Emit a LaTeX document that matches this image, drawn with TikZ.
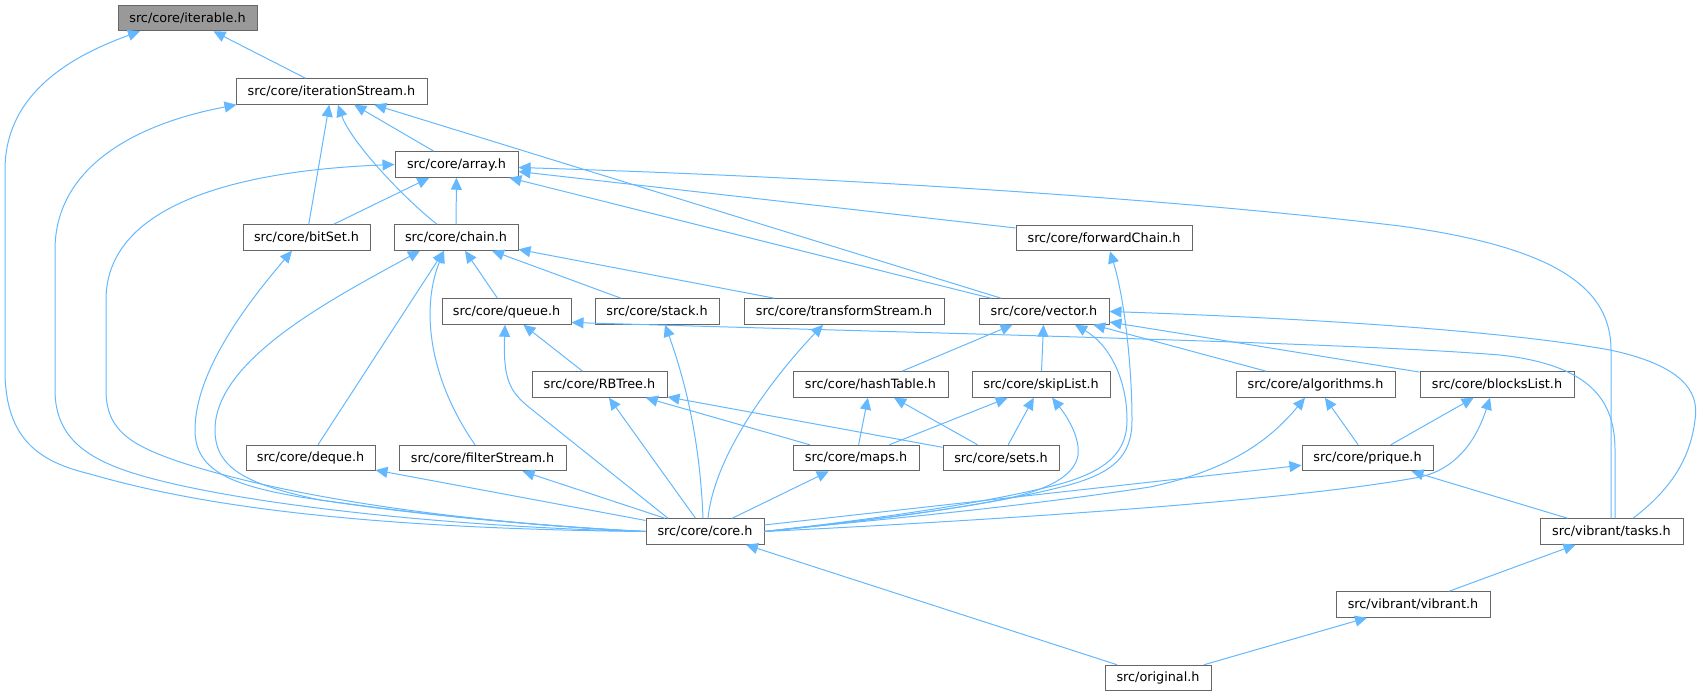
\documentclass[tikz,border=0pt]{standalone}
\usepackage{fontspec}
\setmainfont{DejaVu Sans}
\usetikzlibrary{arrows.meta}
\definecolor{edgec}{HTML}{63B8FF}
\definecolor{bordc}{HTML}{666666}
\definecolor{rootc}{HTML}{999999}
\tikzset{
  fbox/.style={draw=bordc, line width=1pt, fill=white, inner sep=0pt, minimum height=25.5pt,
    font=\fontsize{12.8}{15}\selectfont, text=black},
  rootbox/.style={fbox, fill=rootc},
  dep/.style={draw=edgec, line width=1pt, arrows={Triangle[length=12pt,width=11pt]-}},
}
\begin{document}
\begin{tikzpicture}[x=1pt,y=-1pt]
\useasboundingbox (0,0) rectangle (1705,696);
% nodes
\node[rootbox, minimum width=139pt] (iterable) at (187.5,18) {src/core/iterable.h};
\node[fbox, minimum width=191pt] (iterStream) at (331.5,91.5) {src/core/iterationStream.h};
\node[fbox, minimum width=123pt] (array) at (456.5,164.5) {src/core/array.h};
\node[fbox, minimum width=127pt] (bitSet) at (306.5,237.5) {src/core/bitSet.h};
\node[fbox, minimum width=124pt] (chain) at (456,237.5) {src/core/chain.h};
\node[fbox, minimum width=176pt] (fwdChain) at (1104,238) {src/core/forwardChain.h};
\node[fbox, minimum width=129pt] (queue) at (506.5,311.5) {src/core/queue.h};
\node[fbox, minimum width=124pt] (stack) at (657,311.5) {src/core/stack.h};
\node[fbox, minimum width=200pt] (tStream) at (844,311.5) {src/core/transformStream.h};
\node[fbox, minimum width=130pt] (vector) at (1044,311.5) {src/core/vector.h};
\node[fbox, minimum width=135pt] (rbtree) at (599.5,384.5) {src/core/RBTree.h};
\node[fbox, minimum width=155pt] (hashTable) at (870.5,384.5) {src/core/hashTable.h};
\node[fbox, minimum width=138pt] (skipList) at (1041,384.5) {src/core/skipList.h};
\node[fbox, minimum width=159pt] (algos) at (1315.5,384.5) {src/core/algorithms.h};
\node[fbox, minimum width=154pt] (blocks) at (1497,384.5) {src/core/blocksList.h};
\node[fbox, minimum width=129pt] (deque) at (310.5,458) {src/core/deque.h};
\node[fbox, minimum width=167pt] (fStream) at (482.5,458) {src/core/filterStream.h};
\node[fbox, minimum width=126pt] (maps) at (856,458) {src/core/maps.h};
\node[fbox, minimum width=116pt] (sets) at (1001,458) {src/core/sets.h};
\node[fbox, minimum width=131pt] (prique) at (1367.5,458) {src/core/prique.h};
\node[fbox, minimum width=118pt] (core) at (705,531.5) {src/core/core.h};
\node[fbox, minimum width=143pt] (tasks) at (1611.5,531.5) {src/vibrant/tasks.h};
\node[fbox, minimum width=154pt] (vibrant) at (1413,604.5) {src/vibrant/vibrant.h};
\node[fbox, minimum width=106pt] (original) at (1158,678) {src/original.h};

% straight edges
\draw[dep] (iterable) -- (iterStream);
\draw[dep] (iterStream) -- (array);
\draw[dep] (iterStream) -- (bitSet);
\draw[dep] (iterStream) -- (vector);
\draw[dep] (array) -- (bitSet);
\draw[dep] (array) -- (chain);
\draw[dep] (array) -- (vector);
\draw[dep] (array) -- (fwdChain);
\draw[dep] (chain) -- (queue);
\draw[dep] (chain) -- (stack);
\draw[dep] (chain) -- (tStream);
\draw[dep] (444,0 |- chain.south) -- (318,0 |- deque.north);
\draw[dep] (queue) -- (rbtree);
\draw[dep] (vector) -- (hashTable);
\draw[dep] (vector) -- (skipList);
\draw[dep] (vector) -- (algos);
\draw[dep] (vector) -- (blocks);
\draw[dep] (rbtree) -- (maps);
\draw[dep] (rbtree) -- (sets);
\draw[dep] (rbtree) -- (core);
\draw[dep] (hashTable) -- (maps);
\draw[dep] (hashTable) -- (sets);
\draw[dep] (skipList) -- (maps);
\draw[dep] (skipList) -- (sets);
\draw[dep] (algos) -- (prique);
\draw[dep] (blocks) -- (prique);
\draw[dep] (prique) -- (core);
\draw[dep] (prique) -- (tasks);
\draw[dep] (deque) -- (core);
\draw[dep] (fStream) -- (core);
\draw[dep] (maps) -- (core);
\draw[dep] (core) -- (original);
\draw[dep] (tasks) -- (vibrant);
\draw[dep] (vibrant) -- (original);

% curved edges
\draw[dep] (140,0 |- iterable.south) .. controls (60,60) and (5,100) .. (5,170) -- (5,370)
  .. controls (5,440) and (40,462) .. (90,474) .. controls (160,494) and (300,528) .. (core.west);
\draw[dep] ([xshift=1pt]iterStream.south west) .. controls (130,125) and (55,170) .. (55,250) -- (55,390)
  .. controls (55,440) and (90,462) .. (150,478) .. controls (250,505) and (450,527) .. (core.west);
\draw[dep] (array.west) .. controls (250,170) and (106,200) .. (106,300) -- (106,390)
  .. controls (106,430) and (130,445) .. (180,462) .. controls (280,495) and (450,522) .. (core.west);
\draw[dep] (292,0 |- bitSet.south) .. controls (250,300) and (195,370) .. (195,430)
  .. controls (195,470) and (230,485) .. (300,497) .. controls (420,515) and (550,527) .. (core.west);
\draw[dep] (420,0 |- chain.south) .. controls (330,300) and (215,360) .. (215,430)
  .. controls (215,470) and (250,485) .. (320,500) .. controls (440,518) and (560,527) .. (core.west);
\draw[dep] (444,0 |- chain.south) .. controls (420,310) and (430,380) .. (475,0 |- fStream.north);
\draw[dep] (338,0 |- iterStream.south) .. controls (350,140) and (400,195) .. (437,0 |- chain.north);
\draw[dep] (505,0 |- queue.south) .. controls (503,380) and (510,392) .. (530,408) -- (668,0 |- core.north);
\draw[dep] (665,0 |- stack.south) .. controls (685,380) and (700,440) .. (703,0 |- core.north);
\draw[dep] (823,0 |- tStream.south) .. controls (780,370) and (715,450) .. (708,0 |- core.north);
\draw[dep] (1110,0 |- fwdChain.south) .. controls (1125,300) and (1132,370) .. (1132,420)
  .. controls (1132,455) and (1115,473) .. (1065,486) .. controls (985,507) and (850,523) .. (core.east);
\draw[dep] (1075,0 |- vector.south) .. controls (1110,345) and (1127,380) .. (1127,420)
  .. controls (1127,450) and (1110,470) .. (1060,484) .. controls (980,505) and (850,522) .. (core.east);
\draw[dep] (1052,0 |- skipList.south) .. controls (1070,420) and (1080,440) .. (1078,455)
  .. controls (1075,475) and (1050,490) .. (1000,500) .. controls (920,515) and (830,524) .. (core.east);
\draw[dep] (1305,0 |- algos.south) .. controls (1270,440) and (1230,470) .. (1150,487)
  .. controls (1000,510) and (850,522) .. (core.east);
\draw[dep] (1490,0 |- blocks.south) .. controls (1478,435) and (1460,468) .. (1420,477)
  .. controls (1300,500) and (1000,520) .. (core.east);
\draw[dep] ([yshift=-3pt]array.east) .. controls (800,176) and (1150,196) .. (1400,226)
  .. controls (1560,248) and (1611,290) .. (1611,350) -- (1611,0 |- tasks.north);
\draw[dep] ([yshift=-11pt]queue.east) .. controls (1000,335) and (1350,343) .. (1500,355)
  .. controls (1590,365) and (1615,400) .. (1615,450) -- (1615,0 |- tasks.north);
\draw[dep] (vector.east) .. controls (1300,318) and (1500,330) .. (1610,350)
  .. controls (1680,365) and (1700,390) .. (1695,420) .. controls (1690,460) and (1670,490) .. (1633,0 |- tasks.north);
\end{tikzpicture}
\end{document}
